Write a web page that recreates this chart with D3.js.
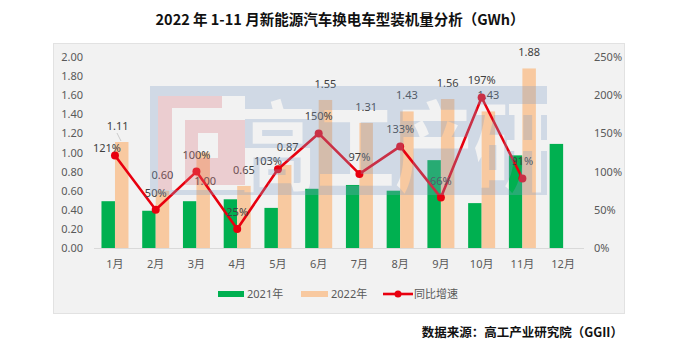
<!DOCTYPE html>
<html>
<head>
<meta charset="utf-8">
<script src="https://cdn.jsdelivr.net/npm/d3@7"></script>
<style>
  body { margin: 0; background: #fff; }
  svg { display: block; font-family: "Noto Sans", "Noto Sans CJK SC", sans-serif; }
</style>
</head>
<body>
<div id="chart"></div>
<script>
// data ---------------------------------------------------------------------
const months = ['1月', '2月', '3月', '4月', '5月', '6月', '7月', '8月', '9月', '10月', '11月', '12月'];
const val2021 = [0.49, 0.39, 0.49, 0.51, 0.42, 0.62, 0.66, 0.60, 0.92, 0.47, 0.97, 1.09];
const val2022 = [1.11, 0.60, 1.00, 0.65, 0.87, 1.55, 1.31, 1.43, 1.56, 1.43, 1.88];
const growth = [121, 50, 100, 25, 103, 150, 97, 133, 66, 197, 91];
const leftTicks = [0, 0.2, 0.4, 0.6, 0.8, 1.0, 1.2, 1.4, 1.6, 1.8, 2.0];
const rightTicks = [0, 50, 100, 150, 200, 250];
const legendNames = ['2021年', '2022年', '同比增速'];
const title = '2022 年 1-11 月新能源汽车换电车型装机量分析（GWh）';
const source = '数据来源：高工产业研究院（GGII）';

// label nudges (where excel moved labels around) -----------------------------
const barLabelShift = {0: [-4, 0], 2: [2, 44], 4: [3, -2]};
const pctLabelShift = {0: [-8, 9], 4: [-10, 9]};

// size ------------------------------------------------------------------------
const width = 678, height = 353;
const green = '#00b050', orange = '#f8c9a0', red = '#e8000f';
const axisText = '#595959', labelText = '#404040';

const svg = d3.select('#chart').append('svg')
  .attr('width', width)
  .attr('height', height);

// panel
svg.append('rect')
  .attr('x', 53.5).attr('y', 43.5)
  .attr('width', 571).attr('height', 270)
  .attr('fill', '#f2f2f2')
  .attr('stroke', '#e2e2e2');

// title
svg.append('text')
  .attr('x', 340).attr('y', 25)
  .attr('text-anchor', 'middle')
  .attr('font-family', '"Noto Sans CJK SC", sans-serif')
  .attr('font-weight', 'bold')
  .attr('font-size', '14.5px')
  .attr('fill', '#111')
  .text(title);

// scales ----------------------------------------------------------------------
const x = d3.scaleBand().domain(months).range([94.6, 583.5]).padding(0);
const y = d3.scaleLinear().domain([0, 2]).range([248, 57]);
const y2 = d3.scaleLinear().domain([0, 250]).range([248, 57]);
const barW = 13.5;
const cx = m => x(m) + x.bandwidth() / 2;

// axes ------------------------------------------------------------------------
const leftAxis = svg.append('g')
  .attr('transform', 'translate(83,0)')
  .call(d3.axisLeft(y).tickValues(leftTicks).tickFormat(d3.format('.2f')).tickSize(0).tickPadding(0));
const rightAxis = svg.append('g')
  .attr('transform', 'translate(594,0)')
  .call(d3.axisRight(y2).tickValues(rightTicks).tickFormat(d => d + '%').tickSize(0).tickPadding(0));
const bottomAxis = svg.append('g')
  .attr('transform', 'translate(0,248.5)')
  .call(d3.axisBottom(x).tickSize(0).tickPadding(12));
[leftAxis, rightAxis, bottomAxis].forEach(a => {
  a.select('.domain').remove();
  a.selectAll('text')
    .attr('font-family', '"Noto Sans", "Noto Sans CJK SC", sans-serif')
    .attr('font-size', '11px')
    .attr('fill', axisText);
});
svg.append('line')
  .attr('x1', 94).attr('x2', 584)
  .attr('y1', 248.5).attr('y2', 248.5)
  .attr('stroke', '#d9d9d9');

// bars ------------------------------------------------------------------------
svg.append('g').selectAll('rect')
  .data(val2021)
  .join('rect')
  .attr('x', (d, i) => cx(months[i]) - barW)
  .attr('y', d => y(d))
  .attr('width', barW)
  .attr('height', d => y(0) - y(d))
  .attr('fill', green);

svg.append('g').selectAll('rect')
  .data(val2022)
  .join('rect')
  .attr('x', (d, i) => cx(months[i]))
  .attr('y', d => y(d))
  .attr('width', barW)
  .attr('height', d => y(0) - y(d))
  .attr('fill', orange);

// bar labels
svg.append('g').selectAll('text')
  .data(val2022)
  .join('text')
  .attr('x', (d, i) => cx(months[i]) + barW / 2 + (barLabelShift[i] ? barLabelShift[i][0] : 0))
  .attr('y', (d, i) => y(d) - 12 + (barLabelShift[i] ? barLabelShift[i][1] : 0))
  .attr('text-anchor', 'middle')
  .attr('font-size', '11px')
  .attr('fill', labelText)
  .text(d => d.toFixed(2));

// leader line for 1月
svg.append('line')
  .attr('x1', cx(months[0]) + 2).attr('y1', y(val2022[0]) - 9)
  .attr('x2', cx(months[0]) + 6).attr('y2', y(val2022[0]) - 1)
  .attr('stroke', '#bfbfbf')
  .attr('stroke-width', 0.8);

// growth line -----------------------------------------------------------------
const line = d3.line()
  .x((d, i) => cx(months[i]))
  .y(d => y2(d));
svg.append('path')
  .datum(growth)
  .attr('d', line)
  .attr('fill', 'none')
  .attr('stroke', red)
  .attr('stroke-width', 2.6)
  .attr('stroke-linejoin', 'round');
svg.append('g').selectAll('circle')
  .data(growth)
  .join('circle')
  .attr('cx', (d, i) => cx(months[i]))
  .attr('cy', d => y2(d))
  .attr('r', 4)
  .attr('fill', red);

svg.append('g').selectAll('text')
  .data(growth)
  .join('text')
  .attr('x', (d, i) => cx(months[i]) + (pctLabelShift[i] ? pctLabelShift[i][0] : 0))
  .attr('y', (d, i) => y2(d) - 13 + (pctLabelShift[i] ? pctLabelShift[i][1] : 0))
  .attr('text-anchor', 'middle')
  .attr('font-size', '11px')
  .attr('fill', labelText)
  .text(d => d + '%');

// watermark (GGII logo, drawn on top, semi transparent) -----------------------
const defs = svg.append('defs');
const mask = defs.append('mask').attr('id', 'wm-mask');
mask.append('rect').attr('x', 0).attr('y', 0).attr('width', width).attr('height', height).attr('fill', '#fff');
mask.append('rect').attr('x', 158).attr('y', 96).attr('width', 87).attr('height', 94).attr('fill', '#000');
mask.append('text')
  .attr('x', 0).attr('y', 0)
  .attr('transform', 'translate(238,183) scale(0.8,1)')
  .attr('font-family', '"Noto Sans CJK SC", sans-serif')
  .attr('font-weight', 'bold')
  .attr('font-size', '98px')
  .attr('fill', '#000')
  .text('高工产研');

const wm = svg.append('g').attr('pointer-events', 'none');
wm.append('rect')
  .attr('x', 150).attr('y', 86)
  .attr('width', 397).attr('height', 109)
  .attr('fill', 'rgba(130,160,200,0.3)')
  .attr('mask', 'url(#wm-mask)');
const pink = 'rgba(220,120,130,0.3)';
wm.append('path')
  .attr('d', 'M158,96H222V108H172V190H158Z')
  .attr('fill', pink);
wm.append('path')
  .attr('d', 'M185,120H245V185H185Z M198,133V158H218V133Z')
  .attr('fill', pink)
  .attr('fill-rule', 'evenodd');

// legend ----------------------------------------------------------------------
const legend = svg.append('g').attr('font-size', '11px').attr('fill', axisText);
legend.append('rect').attr('x', 218).attr('y', 291).attr('width', 26).attr('height', 6).attr('fill', green);
legend.append('text').attr('x', 247).attr('y', 298).text(legendNames[0]);
legend.append('rect').attr('x', 301).attr('y', 291).attr('width', 27).attr('height', 6).attr('fill', orange);
legend.append('text').attr('x', 331).attr('y', 298).text(legendNames[1]);
legend.append('line').attr('x1', 383).attr('x2', 413).attr('y1', 294).attr('y2', 294)
  .attr('stroke', red).attr('stroke-width', 2.6);
legend.append('circle').attr('cx', 398).attr('cy', 294).attr('r', 3.5).attr('fill', red);
legend.append('text').attr('x', 414).attr('y', 298).text(legendNames[2]);

// source ----------------------------------------------------------------------
svg.append('text')
  .attr('x', 623).attr('y', 337)
  .attr('text-anchor', 'end')
  .attr('font-family', '"Noto Sans CJK SC", sans-serif')
  .attr('font-weight', 'bold')
  .attr('font-size', '12.5px')
  .attr('fill', '#111')
  .text(source);
</script>
</body>
</html>
